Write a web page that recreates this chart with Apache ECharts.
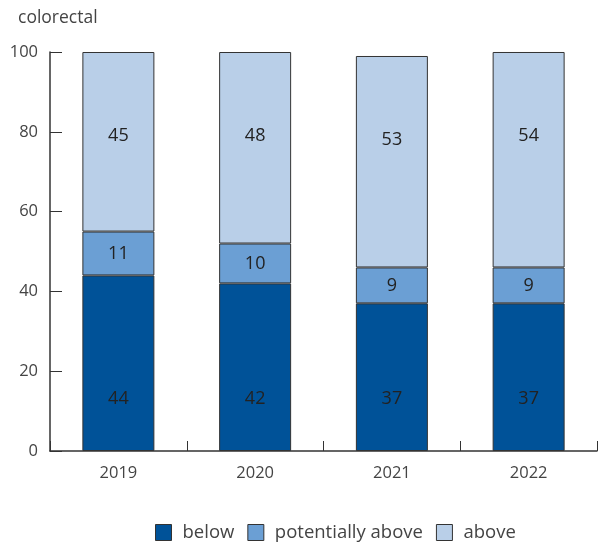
<!DOCTYPE html>
<html>
<head>
<meta charset="utf-8">
<script src="https://cdn.jsdelivr.net/npm/echarts@6/dist/echarts.min.js"></script>
<style>
  html, body { margin: 0; padding: 0; background: #fff; }
  #chart { width: 603px; height: 549px; }
</style>
</head>
<body>
<div id="chart"></div>
<script>
const years = ['2019', '2020', '2021', '2022'];
const below = [44, 42, 37, 37];
const potentiallyAbove = [11, 10, 9, 9];
const above = [45, 48, 53, 54];
const yTicks = [0, 20, 40, 60, 80, 100];

const font = '"Open Sans", "Noto Sans", sans-serif';

const chart = echarts.init(document.getElementById('chart'), null, { renderer: 'canvas' });

// labels sit at fixed heights in the original, not centred in each segment
const makeSeries = (name, data, color, position, distance) => ({
  name,
  type: 'bar',
  stack: 'total',
  data,
  barWidth: 72,
  itemStyle: { color, borderColor: '#333', borderWidth: 1 },
  label: {
    show: true,
    position,
    distance,
    color: '#222',
    fontSize: 18,
    fontFamily: font,
  },
});

chart.setOption({
  animation: false,
  backgroundColor: '#fff',
  title: {
    text: 'colorectal',
    left: 13,
    top: 4,
    textStyle: { color: '#444', fontSize: 17.5, fontWeight: 'normal', fontFamily: font },
  },
  grid: { left: 50, right: 6, top: 52, bottom: 98 },
  legend: {
    top: 518,
    left: 150,
    itemWidth: 16,
    itemHeight: 16,
    itemGap: 13,
    icon: 'rect',
    textStyle: { color: '#444', fontSize: 18.5, fontFamily: font, padding: [0, 0, 0, 6] },
    itemStyle: { borderColor: '#333', borderWidth: 1 },
    data: ['below', 'potentially above', 'above'],
  },
  xAxis: {
    type: 'category',
    data: years,
    axisLine: { lineStyle: { color: '#333', width: 1.5 } },
    axisTick: { show: true, inside: true, length: 10, lineStyle: { color: '#333' } },
    axisLabel: { color: '#444', fontSize: 16.5, margin: 14, fontFamily: font },
  },
  yAxis: {
    type: 'value',
    min: yTicks[0],
    max: yTicks[yTicks.length - 1],
    interval: 20,
    axisLine: { show: true, lineStyle: { color: '#333', width: 1.5 } },
    axisTick: { show: true, inside: true, length: 12, lineStyle: { color: '#333' } },
    axisLabel: { color: '#444', fontSize: 16.5, margin: 12, fontFamily: font },
    splitLine: { show: false },
  },
  series: [
    makeSeries('below', below, '#005298', 'insideBottom', 43),
    makeSeries('potentially above', potentiallyAbove, '#6b9fd4', 'inside', 5),
    makeSeries('above', above, '#b9cfe8', 'insideTop', 75),
  ],
});
</script>
</body>
</html>
